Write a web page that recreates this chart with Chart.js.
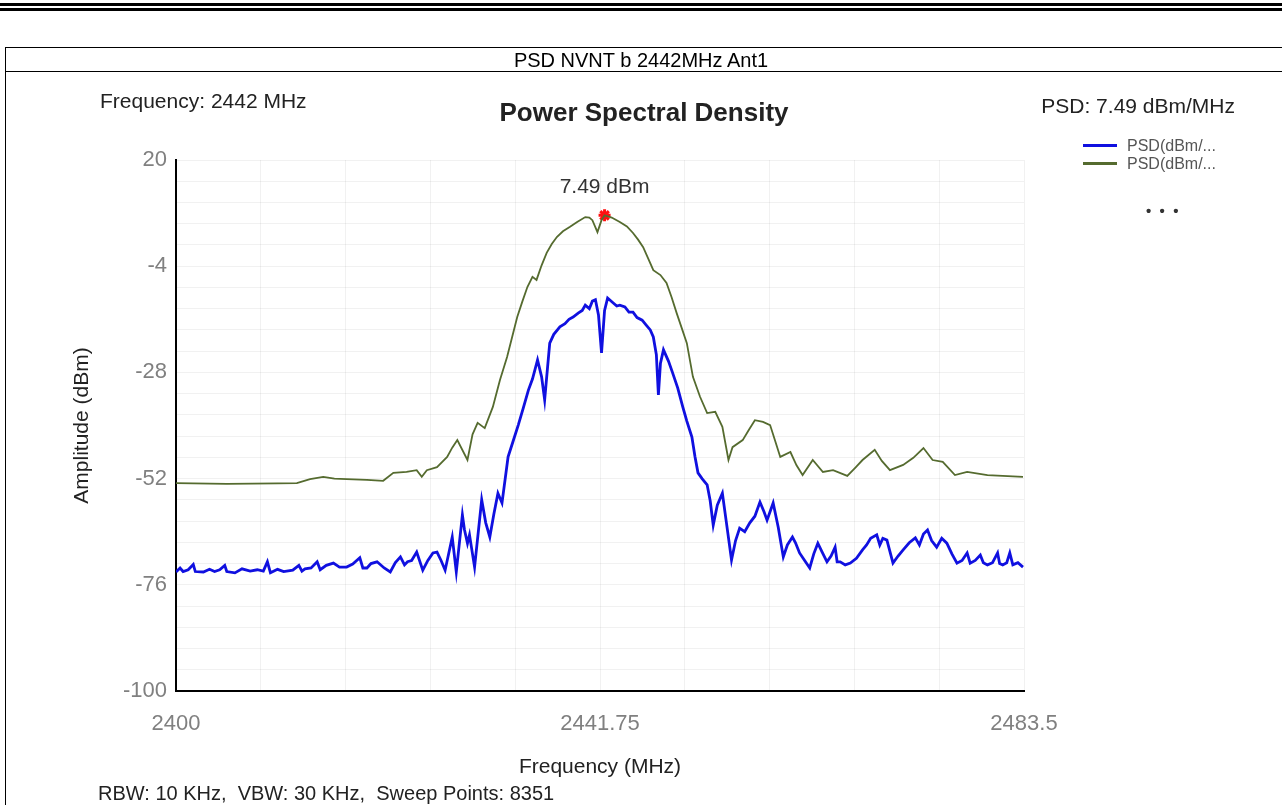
<!DOCTYPE html>
<html>
<head>
<meta charset="utf-8">
<title>PSD NVNT b 2442MHz Ant1</title>
<script src="https://cdn.jsdelivr.net/npm/chart.js@4.4.1/dist/chart.umd.min.js"></script>
<style>
body { margin:0; background:#fff; font-family:"Liberation Sans", Arial, sans-serif; }
#pagina { position:relative; width:1282px; height:805px; overflow:hidden; background:#fff; }
.raya { position:absolute; left:0; width:1282px; height:3px; background:#000; }
#caja { position:absolute; left:5px; top:47px; width:1300px; height:800px; border-left:1px solid #000; border-top:1px solid #000; }
#sep { position:absolute; left:5px; top:71px; width:1300px; height:1px; background:#000; }
.texto { position:absolute; white-space:pre; color:#222; }
.muestra { position:absolute; left:1083px; width:34px; height:3px; }
canvas { position:absolute; left:0; top:0; }
</style>
</head>
<body>
<div id="pagina">
  <div class="raya" style="top:3px"></div>
  <div class="raya" style="top:8px"></div>
  <div id="caja"></div>
  <div id="sep"></div>

  <canvas id="myChart" width="1282" height="805"></canvas>

  <div class="texto" style="left:0;width:1282px;text-align:center;top:48px;font-size:20px;line-height:24px;color:#000">PSD NVNT b 2442MHz Ant1</div>
  <div class="texto" style="left:100px;top:89px;font-size:21px;line-height:24px">Frequency: 2442 MHz</div>
  <div class="texto" style="left:0;width:1288px;text-align:center;top:97px;font-size:26px;line-height:30px;font-weight:bold">Power Spectral Density</div>
  <div class="texto" style="right:47px;top:94px;font-size:21px;line-height:24px">PSD: 7.49 dBm/MHz</div>

  <!-- leyenda -->
  <div class="muestra" style="top:144px;background:#1010e0"></div>
  <div class="texto" style="left:1127px;top:136px;font-size:16px;line-height:20px;color:#555">PSD(dBm/...</div>
  <div class="muestra" style="top:162px;background:#556b2f"></div>
  <div class="texto" style="left:1127px;top:154px;font-size:16px;line-height:20px;color:#555">PSD(dBm/...</div>
  <div class="texto" style="left:1146px;top:201px;font-size:15px;line-height:20px;font-weight:bold;color:#333">•  •  •</div>

  <div class="texto" style="left:98px;top:781px;font-size:20px;line-height:24px">RBW: 10 KHz,  VBW: 30 KHz,  Sweep Points: 8351</div>
</div>

<script>
// trazo azul (MHz / dBm)
const frec_azul = [2400.0, 2400.4, 2400.7, 2401.2, 2401.7, 2401.9, 2402.7, 2403.3, 2403.8, 2404.3,
  2404.8, 2405.0, 2405.8, 2406.5, 2407.3, 2408.0, 2408.6, 2409.0, 2409.3, 2410.0,
  2410.6, 2411.5, 2412.1, 2412.4, 2412.7, 2413.3, 2413.9, 2414.2, 2414.8, 2415.5,
  2416.1, 2416.8, 2417.4, 2418.1, 2418.4, 2418.8, 2419.2, 2419.8, 2420.5, 2421.1,
  2421.6, 2422.1, 2422.5, 2422.8, 2423.2, 2423.7, 2424.3, 2424.8, 2425.3, 2425.7,
  2426.1, 2426.5, 2427.2, 2427.6, 2428.2, 2428.4, 2428.7, 2428.9, 2429.4, 2430.1,
  2430.5, 2430.9, 2431.3, 2431.7, 2432.1, 2432.7, 2433.2, 2433.7, 2434.2, 2434.7,
  2435.1, 2435.6, 2436.0, 2436.3, 2436.8, 2437.2, 2437.8, 2438.3, 2438.7, 2439.1,
  2439.6, 2440.0, 2440.3, 2440.7, 2441.0, 2441.3, 2441.6, 2441.9, 2442.2, 2442.5,
  2443.0, 2443.4, 2443.7, 2444.2, 2444.6, 2445.0, 2445.4, 2445.9, 2446.3, 2446.7,
  2447.0, 2447.3, 2447.5, 2447.7, 2448.0, 2448.5, 2448.9, 2449.4, 2449.9, 2450.3,
  2450.8, 2451.1, 2451.4, 2451.8, 2452.3, 2452.6, 2452.9, 2453.3, 2453.8, 2454.2,
  2454.7, 2455.1, 2455.5, 2456.0, 2456.5, 2457.0, 2457.5, 2457.9, 2458.2, 2458.8,
  2459.3, 2459.8, 2460.2, 2460.7, 2461.0, 2461.4, 2461.9, 2462.4, 2462.8, 2463.2,
  2463.6, 2464.1, 2464.5, 2464.9, 2465.1, 2465.4, 2465.9, 2466.4, 2467.0, 2467.6,
  2468.0, 2468.4, 2469.0, 2469.3, 2469.6, 2470.0, 2470.6, 2471.1, 2471.6, 2472.2,
  2472.8, 2473.2, 2473.6, 2474.0, 2474.4, 2474.9, 2475.4, 2475.9, 2476.4, 2476.9,
  2477.4, 2477.9, 2478.2, 2478.7, 2479.2, 2479.5, 2479.9, 2480.4, 2480.9, 2481.1,
  2481.4, 2481.8, 2482.1, 2482.4, 2482.9, 2483.4]
const psd_azul = [-73.1, -72.2, -73.0, -72.6, -71.4, -73.0, -73.1, -72.5, -73.0, -72.6,
  -71.6, -73.0, -73.3, -72.4, -72.9, -72.6, -72.9, -70.8, -73.3, -72.5,
  -73.0, -72.7, -71.6, -72.9, -72.4, -72.2, -70.8, -72.6, -71.6, -71.1,
  -72.0, -72.0, -71.3, -69.9, -72.2, -72.2, -71.2, -70.8, -72.2, -73.1,
  -71.0, -69.7, -71.5, -70.8, -70.5, -68.6, -72.7, -70.5, -68.8, -68.6,
  -70.5, -72.7, -65.2, -73.1, -60.2, -63.5, -66.6, -64.7, -72.0, -56.8,
  -62.0, -65.2, -60.0, -55.3, -57.5, -47.1, -43.5, -39.9, -36.0, -32.0,
  -29.5, -25.2, -29.0, -34.2, -21.4, -19.4, -17.7, -17.0, -16.0, -15.5,
  -14.6, -14.0, -12.8, -13.6, -11.9, -11.6, -15.0, -23.6, -14.0, -11.2,
  -12.2, -13.0, -12.8, -13.2, -14.4, -14.4, -15.6, -16.2, -17.3, -18.4,
  -20.0, -24.0, -33.1, -26.0, -22.9, -25.5, -28.1, -31.5, -35.8, -39.0,
  -42.6, -47.0, -50.7, -52.0, -53.4, -57.0, -62.5, -58.0, -55.3, -62.0,
  -70.4, -66.0, -63.2, -64.0, -62.0, -60.5, -57.3, -59.5, -61.4, -57.5,
  -63.0, -69.7, -67.0, -65.2, -66.5, -68.8, -70.5, -72.2, -69.0, -66.6,
  -68.5, -70.8, -69.5, -67.5, -70.8, -70.8, -71.5, -71.1, -70.0, -68.1,
  -67.0, -65.5, -64.7, -67.0, -65.5, -65.9, -71.1, -69.5, -68.1, -66.5,
  -65.4, -67.0, -64.5, -63.6, -66.0, -67.5, -65.5, -66.6, -69.0, -71.1,
  -70.5, -68.8, -71.1, -70.5, -69.3, -71.0, -71.5, -71.0, -68.8, -71.2,
  -71.5, -71.0, -68.8, -71.5, -71.0, -72.0]

// trazo verde (max hold)
const frec_verde = [2400.0, 2405.0, 2410.0, 2411.9, 2413.2, 2414.5, 2415.6, 2416.8, 2418.8, 2420.4,
  2421.4, 2422.7, 2423.7, 2424.2, 2424.7, 2425.7, 2426.7, 2427.2, 2427.7, 2428.7,
  2429.2, 2429.7, 2430.4, 2431.2, 2431.9, 2432.6, 2433.1, 2433.6, 2434.1, 2434.6,
  2435.1, 2435.5, 2436.0, 2436.5, 2437.0, 2437.5, 2438.1, 2438.8, 2439.5, 2440.3,
  2440.7, 2441.0, 2441.5, 2441.9, 2442.2, 2442.9, 2443.7, 2444.4, 2445.0, 2445.5,
  2446.0, 2446.5, 2447.0, 2447.7, 2448.3, 2448.8, 2449.3, 2449.8, 2450.3, 2450.9,
  2451.6, 2452.3, 2453.1, 2453.8, 2454.4, 2454.8, 2455.8, 2456.4, 2457.0, 2457.8,
  2458.5, 2459.0, 2459.5, 2460.5, 2461.1, 2461.7, 2462.7, 2463.7, 2464.7, 2466.1,
  2466.9, 2467.6, 2468.8, 2469.5, 2470.3, 2471.6, 2472.6, 2473.6, 2474.5, 2475.5,
  2476.7, 2477.9, 2479.9, 2483.4]
const psd_verde = [-53.0, -53.2, -53.1, -53.0, -52.1, -51.6, -52.0, -52.1, -52.3, -52.5,
  -50.7, -50.5, -50.1, -51.6, -50.1, -49.4, -47.1, -45.0, -43.3, -47.8,
  -42.0, -39.4, -40.6, -35.8, -29.7, -24.5, -20.0, -15.5, -12.0, -8.7,
  -6.4, -7.1, -3.8, -1.0, 1.0, 2.6, 3.9, 4.9, 6.0, 7.1,
  7.0, 6.4, 3.7, 6.4, 7.49, 7.0, 6.0, 5.0, 3.5, 2.0,
  0.3, -2.3, -4.9, -6.0, -7.8, -11.0, -14.6, -18.0, -21.4, -29.0,
  -33.5, -37.2, -36.9, -40.3, -47.8, -44.9, -43.3, -41.0, -38.8, -39.2,
  -39.9, -43.5, -47.1, -46.0, -49.0, -51.2, -47.8, -50.5, -50.1, -51.4,
  -49.5, -47.8, -45.5, -48.0, -50.1, -48.9, -47.3, -45.1, -47.8, -48.2,
  -51.2, -50.5, -51.2, -51.6]

// marcador del pico
const pico_frec = 2442.2
const pico_psd = 7.49
const pico_texto = "7.49 dBm"

// ejes
const etiquetas_x = [2400, 2441.75, 2483.5]
const etiquetas_y = [20, -4, -28, -52, -76, -100]

const fuente = "'Liberation Sans', Arial, sans-serif"

function esEtiqueta(lista, v) {
  return lista.some(e => Math.abs(e - v) < 1e-6)
}

// texto encima del marcador
const etiquetaPico = {
  id: "etiquetaPico",
  afterDatasetsDraw(chart) {
    let c = chart.ctx
    let px = chart.scales.x.getPixelForValue(pico_frec)
    let py = chart.scales.y.getPixelForValue(pico_psd)
    c.save()
    c.font = "21px " + fuente
    c.fillStyle = "#333"
    c.textAlign = "center"
    c.textBaseline = "middle"
    c.fillText(pico_texto, px, py - 28)
    c.restore()
  }
}

let ctx = document.getElementById("myChart").getContext("2d")

datos_graficos = {
  datasets: [{
    label: "PSD(dBm/MHz) max",
    data: frec_verde.map((f, i) => ({x: f, y: psd_verde[i]})),
    borderColor: "#556b2f",
    borderWidth: 1.8,
    pointRadius: 0,
    tension: 0
  }, {
    label: "PSD(dBm/MHz)",
    data: frec_azul.map((f, i) => ({x: f, y: psd_azul[i]})),
    borderColor: "#1010e0",
    borderWidth: 2.8,
    pointRadius: 0,
    tension: 0
  }, {
    label: "pico",
    data: [{x: pico_frec, y: pico_psd}],
    showLine: false,
    pointStyle: "star",
    pointRadius: 6,
    borderColor: "#ff1010",
    backgroundColor: "#ff1010",
    borderWidth: 3
  }]
}

opciones_graficos = {
  responsive: false,
  animation: false,
  devicePixelRatio: 1,
  layout: { padding: { left: 0, top: 160, right: 258, bottom: 0 } },
  plugins: { legend: { display: false }, tooltip: { enabled: false } },
  scales: {
    x: {
      type: "linear",
      min: 2400,
      max: 2483.5,
      afterFit: (eje) => { eje.height = 114 },
      ticks: {
        stepSize: 8.35,
        autoSkip: false,
        maxRotation: 0,
        padding: 20,
        color: "#808080",
        font: { size: 22, family: fuente },
        callback: (v) => esEtiqueta(etiquetas_x, v) ? String(v) : ""
      },
      grid: { color: "rgba(0,0,0,0.055)", drawTicks: false },
      border: { color: "#000", width: 2 },
      title: { display: true, text: "Frequency (MHz)", color: "#222", font: { size: 21, family: fuente }, padding: { top: 0, bottom: 25 } }
    },
    y: {
      min: -100,
      max: 20,
      afterFit: (eje) => { eje.width = 176 },
      ticks: {
        stepSize: 4.8,
        autoSkip: false,
        padding: 9,
        color: "#808080",
        font: { size: 22, family: fuente },
        callback: (v) => esEtiqueta(etiquetas_y, v) ? String(v) : ""
      },
      grid: { color: "rgba(0,0,0,0.055)", drawTicks: false },
      border: { color: "#000", width: 2 },
      title: { display: true, text: "Amplitude (dBm)", color: "#222", font: { size: 21, family: fuente }, padding: { top: 70, bottom: 0 } }
    }
  }
}

let myChart = new Chart(ctx, {
  type: "line",
  data: datos_graficos,
  options: opciones_graficos,
  plugins: [etiquetaPico]
})
</script>
</body>
</html>
